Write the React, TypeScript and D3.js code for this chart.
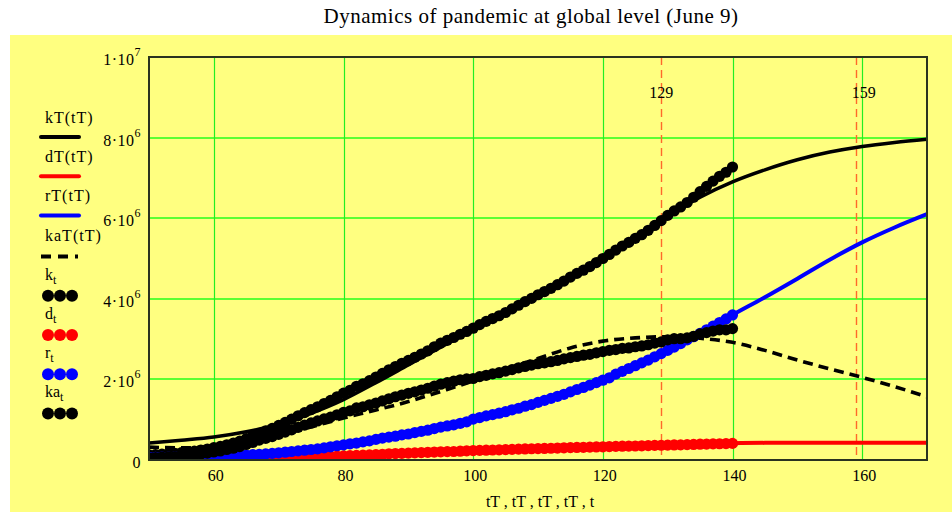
import React from "react";
import * as d3 from "d3";

const W = 952;
const H = 512;
const plot = { left: 149, right: 927, top: 57, bottom: 460 };

// observed data, one value per day starting at t = 50 (millions)
const tStart = 50;
const kObs = [
  0.126, 0.133, 0.146, 0.157, 0.168, 0.182, 0.198, 0.218, 0.245, 0.272,
  0.305, 0.337, 0.379, 0.418, 0.468, 0.53, 0.594, 0.662, 0.721, 0.783,
  0.858, 0.932, 1.013, 1.096, 1.176, 1.25, 1.32, 1.4, 1.48, 1.57,
  1.66, 1.73, 1.83, 1.89, 1.97, 2.06, 2.15, 2.24, 2.32, 2.4,
  2.47, 2.55, 2.63, 2.71, 2.81, 2.9, 2.97, 3.04, 3.12, 3.19,
  3.27, 3.36, 3.44, 3.51, 3.58, 3.66, 3.75, 3.84, 3.93, 4.01,
  4.1, 4.18, 4.26, 4.35, 4.44, 4.54, 4.63, 4.71, 4.8, 4.9,
  5.0, 5.1, 5.21, 5.31, 5.4, 5.5, 5.59, 5.7, 5.82, 5.94,
  6.07, 6.18, 6.28, 6.39, 6.52, 6.66, 6.79, 6.92, 7.04, 7.14,
  7.27,
];
const dObs = [
  0.0046, 0.005, 0.0054, 0.0058, 0.0064, 0.0071, 0.008, 0.0089, 0.01, 0.0113,
  0.013, 0.0147, 0.0165, 0.0185, 0.0212, 0.0241, 0.0275, 0.031, 0.034, 0.0375,
  0.042, 0.047, 0.053, 0.059, 0.065, 0.07, 0.075, 0.082, 0.088, 0.095,
  0.103, 0.109, 0.115, 0.12, 0.126, 0.134, 0.143, 0.154, 0.16, 0.165,
  0.17, 0.177, 0.184, 0.191, 0.197, 0.203, 0.207, 0.211, 0.218, 0.228,
  0.234, 0.239, 0.244, 0.248, 0.251, 0.257, 0.263, 0.269, 0.274, 0.279,
  0.283, 0.286, 0.292, 0.297, 0.302, 0.308, 0.312, 0.315, 0.319, 0.324,
  0.328, 0.333, 0.338, 0.343, 0.346, 0.347, 0.352, 0.357, 0.362, 0.366,
  0.37, 0.373, 0.376, 0.381, 0.386, 0.392, 0.396, 0.4, 0.403, 0.407,
  0.412,
];
const rObs = [
  0.067, 0.068, 0.07, 0.072, 0.077, 0.078, 0.081, 0.083, 0.085, 0.088,
  0.092, 0.098, 0.101, 0.108, 0.114, 0.122, 0.131, 0.138, 0.15, 0.164,
  0.178, 0.193, 0.211, 0.226, 0.244, 0.26, 0.276, 0.3, 0.328, 0.353,
  0.376, 0.402, 0.421, 0.449, 0.474, 0.511, 0.542, 0.568, 0.591, 0.623,
  0.645, 0.681, 0.71, 0.739, 0.781, 0.816, 0.845, 0.873, 0.911, 0.948,
  1.014, 1.053, 1.094, 1.125, 1.162, 1.198, 1.245, 1.284, 1.335, 1.375,
  1.43, 1.48, 1.53, 1.58, 1.63, 1.69, 1.75, 1.8, 1.86, 1.92,
  1.98, 2.04, 2.13, 2.2, 2.27, 2.34, 2.41, 2.48, 2.56, 2.64,
  2.72, 2.8, 2.89, 2.98, 3.06, 3.14, 3.23, 3.32, 3.41, 3.5,
  3.6,
];
const kaObs = [
  0.054, 0.06, 0.071, 0.079, 0.085, 0.097, 0.109, 0.126, 0.15, 0.173,
  0.2, 0.224, 0.262, 0.291, 0.333, 0.384, 0.436, 0.493, 0.537, 0.581,
  0.638, 0.692, 0.749, 0.811, 0.867, 0.92, 0.969, 1.018, 1.064, 1.122,
  1.181, 1.219, 1.294, 1.321, 1.37, 1.415, 1.465, 1.518, 1.569, 1.612,
  1.655, 1.692, 1.736, 1.78, 1.832, 1.881, 1.918, 1.956, 1.991, 2.014,
  2.022, 2.068, 2.102, 2.137, 2.167, 2.205, 2.242, 2.287, 2.321, 2.356,
  2.39, 2.41, 2.44, 2.47, 2.51, 2.54, 2.57, 2.6, 2.62, 2.66,
  2.69, 2.72, 2.74, 2.77, 2.78, 2.81, 2.83, 2.86, 2.9, 2.93,
  2.98, 3.01, 3.01, 3.03, 3.07, 3.13, 3.16, 3.2, 3.23, 3.23,
  3.26,
];

// model curves (millions)
const tModel = [50, 55, 60, 65, 70, 75, 80, 85, 90, 95, 100, 105, 110, 115, 120, 125, 130, 135, 140, 145, 150, 155, 160, 165, 170];
const kModel = [0.42, 0.49, 0.57, 0.7, 0.88, 1.16, 1.5, 1.92, 2.36, 2.8, 3.22, 3.65, 4.1, 4.57, 5.05, 5.55, 6.05, 6.52, 6.9, 7.2, 7.45, 7.64, 7.78, 7.88, 7.96];
const dModel = [0.005, 0.008, 0.014, 0.025, 0.042, 0.07, 0.1, 0.14, 0.17, 0.205, 0.235, 0.26, 0.285, 0.31, 0.33, 0.35, 0.37, 0.39, 0.415, 0.425, 0.425, 0.425, 0.425, 0.425, 0.425];
const rModel = [0.07, 0.078, 0.092, 0.122, 0.178, 0.26, 0.376, 0.511, 0.645, 0.816, 1.014, 1.198, 1.43, 1.69, 1.98, 2.34, 2.72, 3.14, 3.6, 4.04, 4.5, 4.97, 5.4, 5.77, 6.1];
const kaModel = [0.32, 0.3, 0.33, 0.45, 0.62, 0.82, 1.04, 1.24, 1.45, 1.7, 1.96, 2.25, 2.52, 2.78, 2.95, 3.03, 3.06, 3.02, 2.92, 2.72, 2.48, 2.26, 2.05, 1.82, 1.57];

const xTicks = [60, 80, 100, 120, 140, 160];
const yTicks = [0, 2e6, 4e6, 6e6, 8e6, 1e7];
const yTickBase = ["0", "2·10", "4·10", "6·10", "8·10", "1·10"];
const yTickExp = ["", "6", "6", "6", "6", "7"];
const markers = [129, 159];

const serif = '"Liberation Serif", "Times New Roman", Times, serif';

const x = d3.scaleLinear().domain([50, 170]).range([plot.left, plot.right]);
const y = d3.scaleLinear().domain([0, 1e7]).range([plot.bottom, plot.top]);
const px = (v: number) => Math.round(x(v)) + 0.5;

const line = d3
  .line<number>()
  .x((_, i) => x(tModel[i]))
  .y((v) => y(v * 1e6))
  .curve(d3.curveMonotoneX);

const legendItems = [
  { name: "kT(tT)", sub: "", kind: "line", color: "#000" },
  { name: "dT(tT)", sub: "", kind: "line", color: "#ff0000" },
  { name: "rT(tT)", sub: "", kind: "line", color: "#0000ff" },
  { name: "kaT(tT)", sub: "", kind: "dash", color: "#000" },
  { name: "k", sub: "t", kind: "dots", color: "#000" },
  { name: "d", sub: "t", kind: "dots", color: "#ff0000" },
  { name: "r", sub: "t", kind: "dots", color: "#0000ff" },
  { name: "ka", sub: "t", kind: "dots", color: "#000" },
];

const Dots = ({ data, color }: { data: number[]; color: string }) => (
  <g fill={color}>
    {data.map((v, i) => (
      <circle key={i} cx={x(tStart + i)} cy={y(v * 1e6)} r={5.6} />
    ))}
  </g>
);

export default function App() {
  const lineW = 3.6;
  const font = { fontFamily: serif };
  return (
    <svg width={W} height={H} style={{ position: "fixed", left: 0, top: 0, background: "#fff", fontFamily: serif }}>
      <defs>
        <clipPath id="plotClip">
          <rect x={plot.left} y={plot.top} width={plot.right - plot.left} height={plot.bottom - plot.top} />
        </clipPath>
      </defs>
      <rect x={10} y={35} width={W - 10} height={H - 35} fill="#ffff80" />
      <text x={531} y={23} fontSize={21} letterSpacing={0.5} textAnchor="middle" fill="#000" style={font}>
        Dynamics of pandemic at global level (June 9)
      </text>

      {/* grid */}
      {yTicks.slice(1, -1).map((t) => (
        <line key={t} x1={plot.left} x2={plot.right} y1={Math.round(y(t))} y2={Math.round(y(t))} stroke="#5cff33" strokeWidth={2} />
      ))}
      {xTicks.map((t) => (
        <line key={t} x1={px(t)} x2={px(t)} y1={plot.top} y2={plot.bottom} stroke="#22ee22" strokeWidth={1.2} />
      ))}

      {/* markers */}
      {markers.map((m) => (
        <g key={m}>
          <line x1={px(m)} x2={px(m)} y1={plot.top} y2={plot.bottom} stroke="#ff6a2a" strokeWidth={1.4} strokeDasharray="8,5" />
          <text x={x(m) + (m === 159 ? 8 : 0)} y={98} fontSize={16} textAnchor="middle" style={font}>
            {m}
          </text>
        </g>
      ))}

      <g clipPath="url(#plotClip)">
        <path d={line(kModel) ?? ""} fill="none" stroke="#000" strokeWidth={lineW} />
        <path d={line(dModel) ?? ""} fill="none" stroke="#ff0000" strokeWidth={lineW + 0.4} />
        <path d={line(rModel) ?? ""} fill="none" stroke="#0000ff" strokeWidth={lineW + 0.4} />
        <path d={line(kaModel) ?? ""} fill="none" stroke="#000" strokeWidth={lineW} strokeDasharray="10,6" />
        <Dots data={kObs} color="#000" />
        <Dots data={dObs} color="#ff0000" />
        <Dots data={rObs} color="#0000ff" />
        <Dots data={kaObs} color="#000" />
      </g>

      {/* frame */}
      <rect
        x={plot.left}
        y={plot.top}
        width={plot.right - plot.left}
        height={plot.bottom - plot.top}
        fill="none"
        stroke="#2a3320"
        strokeWidth={2}
      />

      {/* y tick labels */}
      {yTicks.map((t, i) => (
        <text key={t} x={141} y={y(t) + 8} fontSize={16} textAnchor="end" letterSpacing={0.5} style={font}>
          {yTickBase[i]}
          {yTickExp[i] && (
            <tspan dy={-9} fontSize={12}>
              {yTickExp[i]}
            </tspan>
          )}
        </text>
      ))}

      {/* x tick labels */}
      {xTicks.map((t) => (
        <text key={t} x={x(t) + 2} y={481} fontSize={16} textAnchor="middle" style={font}>
          {t}
        </text>
      ))}
      <text x={540} y={507} fontSize={16} textAnchor="middle" style={font}>
        tT , tT , tT , tT , t
      </text>

      {/* legend */}
      {legendItems.map((it, i) => {
        const base = 123 + i * 39.2;
        const sy = base + (i < 3 ? 14 : 16);
        return (
          <g key={it.name}>
            <text x={45} y={base} fontSize={16} letterSpacing={it.sub ? 0 : 1} style={font}>
              {it.name}
              {it.sub && (
                <tspan dy={4} fontSize={12}>
                  {it.sub}
                </tspan>
              )}
            </text>
            {it.kind === "line" && <line x1={41} x2={79} y1={sy} y2={sy} stroke={it.color} strokeWidth={4} strokeLinecap="round" />}
            {it.kind === "dash" && (
              <line x1={41} x2={78} y1={sy} y2={sy} stroke={it.color} strokeWidth={4} strokeDasharray="10,7" strokeLinecap="butt" />
            )}
            {it.kind === "dots" &&
              [48, 60, 72].map((cx) => <circle key={cx} cx={cx} cy={sy} r={6} fill={it.color} />)}
          </g>
        );
      })}
    </svg>
  );
}
